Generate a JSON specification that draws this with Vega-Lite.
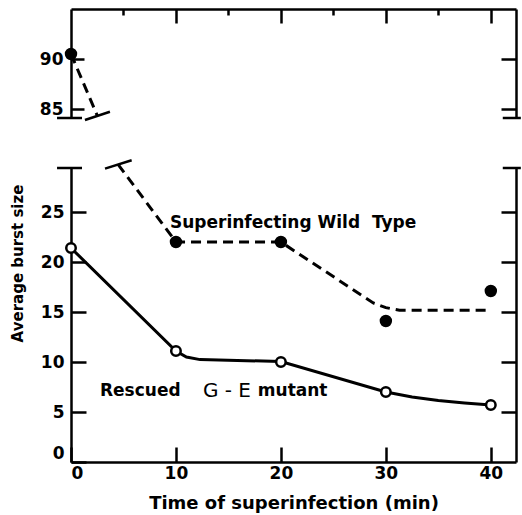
{
  "$schema": "https://vega.github.io/schema/vega-lite/v6.json",
  "background": "white",
  "padding": {"left": 9, "top": 7, "right": 2, "bottom": 2},
  "bounds": "flush",
  "spacing": 50,
  "config": {
    "view": {"stroke": null},
    "font": "DejaVu Sans",
    "axis": {
      "grid": false,
      "domainColor": "black",
      "domainWidth": 2.5,
      "tickColor": "black",
      "tickWidth": 2.5,
      "labelColor": "black",
      "labelFont": "DejaVu Sans",
      "labelFontSize": 17,
      "labelFontWeight": "bold",
      "titleColor": "black",
      "titleFont": "DejaVu Sans",
      "titleFontWeight": "bold"
    }
  },
  "datasets": {
    "points": [
      {"series": "wild", "t": 0, "burst": 90.5},
      {"series": "wild", "t": 10, "burst": 22.0},
      {"series": "wild", "t": 20, "burst": 22.0},
      {"series": "wild", "t": 30, "burst": 14.1},
      {"series": "wild", "t": 40, "burst": 17.1},
      {"series": "rescued", "t": 0, "burst": 21.4},
      {"series": "rescued", "t": 10, "burst": 11.1},
      {"series": "rescued", "t": 20, "burst": 10.0},
      {"series": "rescued", "t": 30, "burst": 7.0},
      {"series": "rescued", "t": 40, "burst": 5.7}
    ],
    "curves": [
      {"series": "wild", "t": 0, "burst": 90.5},
      {"series": "wild", "t": 2.52, "burst": 84.3},
      {"series": "wild", "t": 4.48, "burst": 29.77},
      {"series": "wild", "t": 10, "burst": 22.0},
      {"series": "wild", "t": 20, "burst": 22.0},
      {"series": "wild", "t": 28.8, "burst": 15.9},
      {"series": "wild", "t": 30, "burst": 15.44},
      {"series": "wild", "t": 31.3, "burst": 15.17},
      {"series": "wild", "t": 40, "burst": 15.17},
      {"series": "rescued", "t": 0, "burst": 21.4},
      {"series": "rescued", "t": 10, "burst": 11.1},
      {"series": "rescued", "t": 11, "burst": 10.5},
      {"series": "rescued", "t": 12.3, "burst": 10.24},
      {"series": "rescued", "t": 20, "burst": 10.05},
      {"series": "rescued", "t": 30, "burst": 7.0},
      {"series": "rescued", "t": 32.5, "burst": 6.5},
      {"series": "rescued", "t": 35, "burst": 6.15},
      {"series": "rescued", "t": 37.5, "burst": 5.9},
      {"series": "rescued", "t": 40, "burst": 5.7}
    ],
    "breaks": [
      {"panel": "upper", "t": -1.33, "t2": 1.05, "burst": 84.1, "burst2": 84.1},
      {"panel": "upper", "t": 41.14, "t2": 42.86, "burst": 84.1, "burst2": 84.1},
      {"panel": "upper", "t": 1.33, "t2": 3.71, "burst": 83.9, "burst2": 84.73},
      {"panel": "lower", "t": -1.33, "t2": 1.05, "burst": 29.4, "burst2": 29.4},
      {"panel": "lower", "t": 41.14, "t2": 42.86, "burst": 29.4, "burst2": 29.4},
      {"panel": "lower", "t": 3.24, "t2": 5.78, "burst": 29.34, "burst2": 30.17}
    ],
    "labels": [
      {"text": "Superinfecting Wild\u00a0\u00a0Type", "t": 9.43, "burst": 23.44},
      {"text": "Rescued", "t": 2.76, "burst": 6.57},
      {"text": "mutant", "t": 17.8, "burst": 6.57}
    ],
    "bigLabels": [
      {"text": "G - E", "t": 12.57, "burst": 6.5}
    ]
  },
  "vconcat": [
    {
      "width": 445,
      "height": 109,
      "resolve": {"axis": {"x": "independent", "y": "independent"}},
      "layer": [
        {
          "data": {"name": "curves"},
          "transform": [{"filter": "datum.burst > 50"}],
          "mark": {"type": "line", "stroke": "black", "strokeWidth": 3, "strokeDash": [10, 6], "clip": false},
          "encoding": {
            "x": {
              "field": "t", "type": "quantitative",
              "scale": {"domain": [0, 42.4], "nice": false, "zero": false},
              "axis": {
                "orient": "top", "values": [5, 10, 15, 20, 25, 30, 35, 40],
                "labels": false, "title": null,
                "tickSize": {"condition": {"test": "datum.value % 10 === 0", "value": -14}, "value": -6}
              }
            },
            "y": {
              "field": "burst", "type": "quantitative",
              "scale": {"domain": [84.1, 95], "nice": false, "zero": false},
              "axis": {"orient": "left", "values": [85, 90], "title": null, "tickSize": -13, "labelPadding": 21}
            }
          }
        },
        {
          "data": {"name": "points"},
          "transform": [{"filter": "datum.burst > 50"}],
          "mark": {"type": "point", "shape": "circle", "filled": true, "fill": "black", "opacity": 1, "size": 154, "clip": false},
          "encoding": {
            "x": {"field": "t", "type": "quantitative", "scale": {"domain": [0, 42.4], "nice": false, "zero": false}, "axis": null},
            "y": {
              "field": "burst", "type": "quantitative",
              "scale": {"domain": [84.1, 95], "nice": false, "zero": false},
              "axis": {"orient": "right", "values": [85, 90], "labels": false, "title": null, "tickSize": -15}
            }
          }
        },
        {
          "data": {"name": "breaks"},
          "transform": [{"filter": "datum.panel === 'upper'"}],
          "mark": {"type": "rule", "stroke": "black", "strokeWidth": 2.5, "clip": false},
          "encoding": {
            "x": {"field": "t", "type": "quantitative", "scale": {"domain": [0, 42.4], "nice": false, "zero": false}, "axis": null},
            "x2": {"field": "t2"},
            "y": {"field": "burst", "type": "quantitative", "scale": {"domain": [84.1, 95], "nice": false, "zero": false}, "axis": null},
            "y2": {"field": "burst2"}
          }
        }
      ]
    },
    {
      "width": 445,
      "height": 294,
      "resolve": {"axis": {"x": "independent", "y": "independent"}},
      "layer": [
        {
          "data": {"name": "curves"},
          "transform": [{"filter": "datum.series === 'wild' && datum.burst < 50"}],
          "mark": {"type": "line", "stroke": "black", "strokeWidth": 3, "strokeDash": [10, 6], "clip": false},
          "encoding": {
            "x": {
              "field": "t", "type": "quantitative",
              "scale": {"domain": [0, 42.4], "nice": false, "zero": false},
              "axis": {
                "orient": "bottom", "values": [0, 10, 20, 30, 40], "tickSize": -15,
                "labelPadding": 18, "title": "Time of superinfection (min)",
                "titleFontSize": 18, "titlePadding": 13
              }
            },
            "y": {
              "field": "burst", "type": "quantitative",
              "scale": {"domain": [0, 29.4], "nice": false, "zero": false},
              "axis": {
                "orient": "left", "values": [0, 5, 10, 15, 20, 25], "tickSize": -15,
                "labelPadding": 22, "labelFlush": true,
                "title": "Average burst size", "titleFontSize": 15,
                "titleX": -46, "titleY": 95
              }
            }
          }
        },
        {
          "data": {"name": "curves"},
          "transform": [{"filter": "datum.series === 'rescued'"}],
          "mark": {"type": "line", "stroke": "black", "strokeWidth": 3, "clip": false},
          "encoding": {
            "x": {"field": "t", "type": "quantitative", "scale": {"domain": [0, 42.4], "nice": false, "zero": false}, "axis": null},
            "y": {"field": "burst", "type": "quantitative", "scale": {"domain": [0, 29.4], "nice": false, "zero": false}, "axis": null}
          }
        },
        {
          "data": {"name": "points"},
          "transform": [{"filter": "datum.series === 'wild' && datum.burst < 50"}],
          "mark": {"type": "point", "shape": "circle", "filled": true, "fill": "black", "opacity": 1, "size": 154, "clip": false},
          "encoding": {
            "x": {"field": "t", "type": "quantitative", "scale": {"domain": [0, 42.4], "nice": false, "zero": false}, "axis": null},
            "y": {
              "field": "burst", "type": "quantitative",
              "scale": {"domain": [0, 29.4], "nice": false, "zero": false},
              "axis": {"orient": "right", "values": [5, 10, 15, 20, 25], "labels": false, "title": null, "tickSize": -15}
            }
          }
        },
        {
          "data": {"name": "points"},
          "transform": [{"filter": "datum.series === 'rescued'"}],
          "mark": {"type": "point", "shape": "circle", "filled": true, "fill": "white", "stroke": "black", "strokeWidth": 2.5, "opacity": 1, "size": 90, "clip": false},
          "encoding": {
            "x": {"field": "t", "type": "quantitative", "scale": {"domain": [0, 42.4], "nice": false, "zero": false}, "axis": null},
            "y": {"field": "burst", "type": "quantitative", "scale": {"domain": [0, 29.4], "nice": false, "zero": false}, "axis": null}
          }
        },
        {
          "data": {"name": "breaks"},
          "transform": [{"filter": "datum.panel === 'lower'"}],
          "mark": {"type": "rule", "stroke": "black", "strokeWidth": 2.5, "clip": false},
          "encoding": {
            "x": {"field": "t", "type": "quantitative", "scale": {"domain": [0, 42.4], "nice": false, "zero": false}, "axis": null},
            "x2": {"field": "t2"},
            "y": {"field": "burst", "type": "quantitative", "scale": {"domain": [0, 29.4], "nice": false, "zero": false}, "axis": null},
            "y2": {"field": "burst2"}
          }
        },
        {
          "data": {"name": "labels"},
          "mark": {"type": "text", "align": "left", "baseline": "alphabetic", "font": "DejaVu Sans", "fontSize": 17, "fontWeight": "bold", "fill": "black", "clip": false},
          "encoding": {
            "x": {"field": "t", "type": "quantitative", "scale": {"domain": [0, 42.4], "nice": false, "zero": false}, "axis": null},
            "y": {"field": "burst", "type": "quantitative", "scale": {"domain": [0, 29.4], "nice": false, "zero": false}, "axis": null},
            "text": {"field": "text"}
          }
        },
        {
          "data": {"name": "bigLabels"},
          "mark": {"type": "text", "align": "left", "baseline": "alphabetic", "font": "DejaVu Sans", "fontSize": 20, "fill": "black", "clip": false},
          "encoding": {
            "x": {"field": "t", "type": "quantitative", "scale": {"domain": [0, 42.4], "nice": false, "zero": false}, "axis": null},
            "y": {"field": "burst", "type": "quantitative", "scale": {"domain": [0, 29.4], "nice": false, "zero": false}, "axis": null},
            "text": {"field": "text"}
          }
        }
      ]
    }
  ]
}
